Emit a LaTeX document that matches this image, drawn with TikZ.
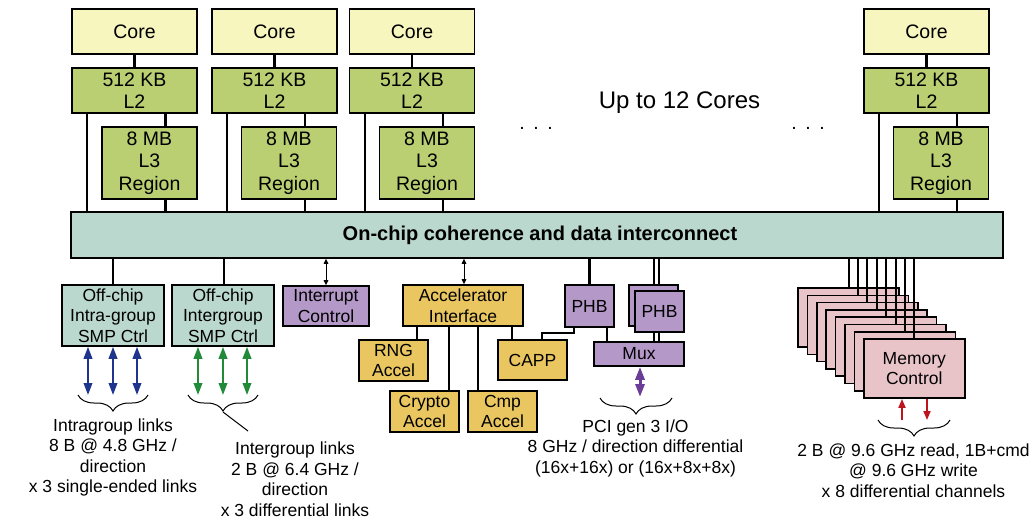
\documentclass[tikz,border=0pt]{standalone}
\usepackage{fontspec}
\setmainfont{Liberation Sans}
\usetikzlibrary{arrows.meta,decorations.pathreplacing,calc}
\pgfdeclarelayer{bg}
\pgfsetlayers{bg,main}
\definecolor{corefill}{RGB}{248,246,191}
\definecolor{cachefill}{RGB}{185,207,114}
\definecolor{icfill}{RGB}{187,216,206}
\definecolor{purpfill}{RGB}{180,152,200}
\definecolor{accfill}{RGB}{233,198,96}
\definecolor{memfill}{RGB}{232,196,200}
\definecolor{arrblue}{RGB}{31,52,140}
\definecolor{arrgreen}{RGB}{34,139,58}
\definecolor{arrpurple}{RGB}{107,61,150}
\definecolor{arrred}{RGB}{190,20,30}
\tikzset{
  box/.style={draw=black, line width=1.6pt, inner sep=0pt, align=center,
    font=\fontsize{19.5}{22.5}\selectfont},
  sbox/.style={box, font=\fontsize{17.5}{20.5}\selectfont},
  conn/.style={line width=2.4pt},
  memline/.style={line width=2pt},
  dblarr/.style={line width=1pt, {Triangle[length=5pt,width=4.5pt]}-{Triangle[length=5pt,width=4.5pt]}},
  linkarr/.style={line width=2pt, {Triangle[length=12pt,width=8.5pt]}-{Triangle[length=12pt,width=8.5pt]}},
  pciarr/.style={line width=3pt, draw=arrpurple, {Triangle[length=13pt,width=9pt]}-{Triangle[length=13pt,width=9pt]}},
  memarr/.style={line width=1.8pt, draw=arrred, -{Triangle[length=9pt,width=7pt]}},
  brace/.style={decorate, decoration={brace, mirror, amplitude=16pt}, line width=1pt},
  txt/.style={align=center, inner sep=0pt, font=\fontsize{17.5}{20.5}\selectfont},
}
\begin{document}
\begin{tikzpicture}[x=1pt,y=-1pt]
\useasboundingbox (0,0) rectangle (1035,519);

% ---------- cores ----------
\foreach \n/\cx/\lx in {a/134.5/149.5, b/274.5/289, c/412/427, d/926.5/941} {
  \node[box, fill=corefill, minimum width=125pt, minimum height=45pt] (core\n) at (\cx,31.5) {Core};
  \node[box, fill=cachefill, minimum width=125pt, minimum height=45pt] (ltwo\n) at (\cx,90.5) {512 KB\\L2};
  \node[box, fill=cachefill, minimum width=95pt, minimum height=72pt] (lthree\n) at (\lx,163) {8 MB\\L3\\Region};
}
\node[box, fill=icfill, minimum width=932pt, minimum height=46pt] (ic) at (537,235) {};
\node[inner sep=0pt, font=\bfseries\fontsize{20}{24}\selectfont] (ictext) at (540,235) {On-chip coherence and data interconnect};

\node[anchor=base, inner sep=0pt, font=\fontsize{24}{28}\selectfont] (upto) at (679.5,108.6) {Up to 12 Cores};
\node[anchor=base, inner sep=0pt, font=\fontsize{19.5}{22}\selectfont] (dotsa) at (536,129) {.\hspace{8.6pt}.\hspace{8.6pt}.};
\node[anchor=base, inner sep=0pt, font=\fontsize{19.5}{22}\selectfont] (dotsb) at (808,129) {.\hspace{8.6pt}.\hspace{8.6pt}.};

\begin{pgfonlayer}{bg}
\foreach \n in {a,b,c,d} {
  \draw[conn] (core\n.south) -- (ltwo\n.north);
  \draw[conn] ([xshift=16pt]ltwo\n.south west) -- ([xshift=16pt]ltwo\n.south west |- ic.north);
  \draw[conn] ([xshift=16pt]lthree\n.north) -- ([xshift=16pt]lthree\n.north |- ltwo\n.south);
  \draw[conn] ([xshift=16pt]lthree\n.south) -- ([xshift=16pt]lthree\n.south |- ic.north);
}
\end{pgfonlayer}

% ---------- bottom blocks ----------
\node[sbox, fill=icfill, minimum width=102pt, minimum height=61pt] (intra) at (113,315.5) {Off-chip\\Intra-group\\SMP Ctrl};
\node[sbox, fill=icfill, minimum width=102pt, minimum height=61pt] (inter) at (223,315.5) {Off-chip\\Intergroup\\SMP Ctrl};
\node[sbox, fill=purpfill, minimum width=86pt, minimum height=40pt] (intc) at (326,306) {Interrupt\\Control};
\node[sbox, fill=accfill, minimum width=120pt, minimum height=41pt] (accif) at (463,305.5) {Accelerator\\Interface};
\node[sbox, fill=accfill, minimum width=69pt, minimum height=41pt] (rng) at (393.5,360.5) {RNG\\Accel};
\node[sbox, fill=accfill, minimum width=69pt, minimum height=41pt] (crypto) at (424.5,411.5) {Crypto\\Accel};
\node[sbox, fill=accfill, minimum width=69pt, minimum height=41pt] (cmp) at (502.5,411.5) {Cmp\\Accel};
\node[sbox, fill=accfill, minimum width=69pt, minimum height=40pt] (capp) at (532.5,360) {CAPP};
\node[sbox, fill=purpfill, minimum width=49pt, minimum height=42pt] (phba) at (589.5,306) {PHB};
\node[sbox, fill=purpfill, minimum width=49pt, minimum height=41pt] (phbback) at (653.5,305.5) {};
\node[sbox, fill=purpfill, minimum width=49pt, minimum height=41pt] (phbb) at (659.5,311.5) {PHB};
\node[sbox, fill=purpfill, minimum width=90pt, minimum height=24pt] (mux) at (639,354) {Mux};

\coordinate (dla) at (654,0);
\coordinate (dlb) at (659,0);
\begin{pgfonlayer}{bg}
\draw[conn] (intra.north) -- (intra.north |- ic.south);
\draw[conn] ([xshift=1pt]inter.north) -- ([xshift=1pt]inter.north |- ic.south);
\draw[conn] (phba.north) -- (phba.north |- ic.south);
\draw[conn] ([xshift=23.5pt]rng.north) -- ([xshift=23.5pt]rng.north |- accif.south);
\draw[conn] ([xshift=24.5pt]crypto.north) -- ([xshift=24.5pt]crypto.north |- accif.south);
\draw[conn] ([xshift=-24.5pt]cmp.north) -- ([xshift=-24.5pt]cmp.north |- accif.south);
\draw[conn] ([xshift=-20.5pt]capp.north) -- ([xshift=-20.5pt]capp.north |- accif.south);
\draw[conn] ([xshift=9.5pt]capp.north) -- ++(0,-6) -| ([xshift=-15.5pt]phba.south);
\draw[conn] ([xshift=17.5pt]phba.south) -- ([xshift=17.5pt]phba.south |- mux.north);
\draw[line width=1.6pt] (dla |- ic.south) -- (dla |- mux.north);
\draw[line width=1.6pt] (dlb |- ic.south) -- (dlb |- mux.north);
\end{pgfonlayer}
\draw[dblarr] (intc.north) -- (intc.north |- ic.south);
\draw[dblarr] ([xshift=1pt]accif.north) -- ([xshift=1pt]accif.north |- ic.south);

% ---------- memory controllers ----------
\foreach \i in {0,...,6} {
  \node[sbox, fill=memfill, minimum width=101pt, minimum height=59pt] (mem\i) at (848.5+9.4*\i,317.5+7.3*\i) {};
  \draw[memline] (mem\i.north) -- (mem\i.north |- ic.south);
}
\node[sbox, fill=memfill, minimum width=101pt, minimum height=59pt] (mem7) at (914.3,368.6) {Memory\\Control};
\draw[memline] (mem7.north) -- (mem7.north |- ic.south);

% ---------- link arrows ----------
\coordinate (brl) at (0,395);
\foreach \d in {-25,0,24} {
  \draw[linkarr, draw=arrblue, fill=arrblue] ([xshift=\d pt]intra.south) -- ([xshift=\d pt]intra.south |- brl);
  \draw[linkarr, draw=arrgreen, fill=arrgreen] ([xshift=\d pt]inter.south) -- ([xshift=\d pt]inter.south |- brl);
}
\coordinate (pcib) at (0,397);
\draw[pciarr] ([xshift=1pt]mux.south) -- ([xshift=1pt]mux.south |- pcib);
\coordinate (memb) at (0,420);
\draw[memarr] ([xshift=-12.3pt]mem7.south |- memb) -- ([xshift=-12.3pt]mem7.south);
\draw[memarr] ([xshift=12.7pt]mem7.south) -- ([xshift=12.7pt]mem7.south |- memb);

% ---------- braces ----------
\coordinate (bia) at (78,395);  \coordinate (bib) at (148,395);
\coordinate (bga) at (188,395); \coordinate (bgb) at (258,395);
\coordinate (bpa) at (600,398); \coordinate (bpb) at (672,398);
\coordinate (bma) at (878,420); \coordinate (bmb) at (950,420);
\draw[brace] (bia) -- (bib);
\draw[brace] (bga) -- (bgb);
\draw[brace] (bpa) -- (bpb);
\draw[brace] (bma) -- (bmb);
\coordinate (btip) at (223,412);
\coordinate (bend) at (248,431);
\draw[line width=1pt] (btip) -- (bend);

% ---------- texts ----------
\node[txt, anchor=north] (tintra) at (113,418.5) {Intragroup links\\8 B @ 4.8 GHz /\\direction\\x 3 single-ended links};
\node[txt, anchor=north] (tinter) at (295,442) {Intergroup links\\2 B @ 6.4 GHz /\\direction\\x 3 differential links};
\node[txt, anchor=north] (tpci) at (635.5,419.5) {PCI gen 3 I/O\\8 GHz / direction differential\\(16x+16x) or (16x+8x+8x)};
\node[txt, anchor=north] (tmem) at (913.5,443.5) {2 B @ 9.6 GHz read, 1B+cmd\\@ 9.6 GHz write\\x 8 differential channels};
\end{tikzpicture}
\end{document}
